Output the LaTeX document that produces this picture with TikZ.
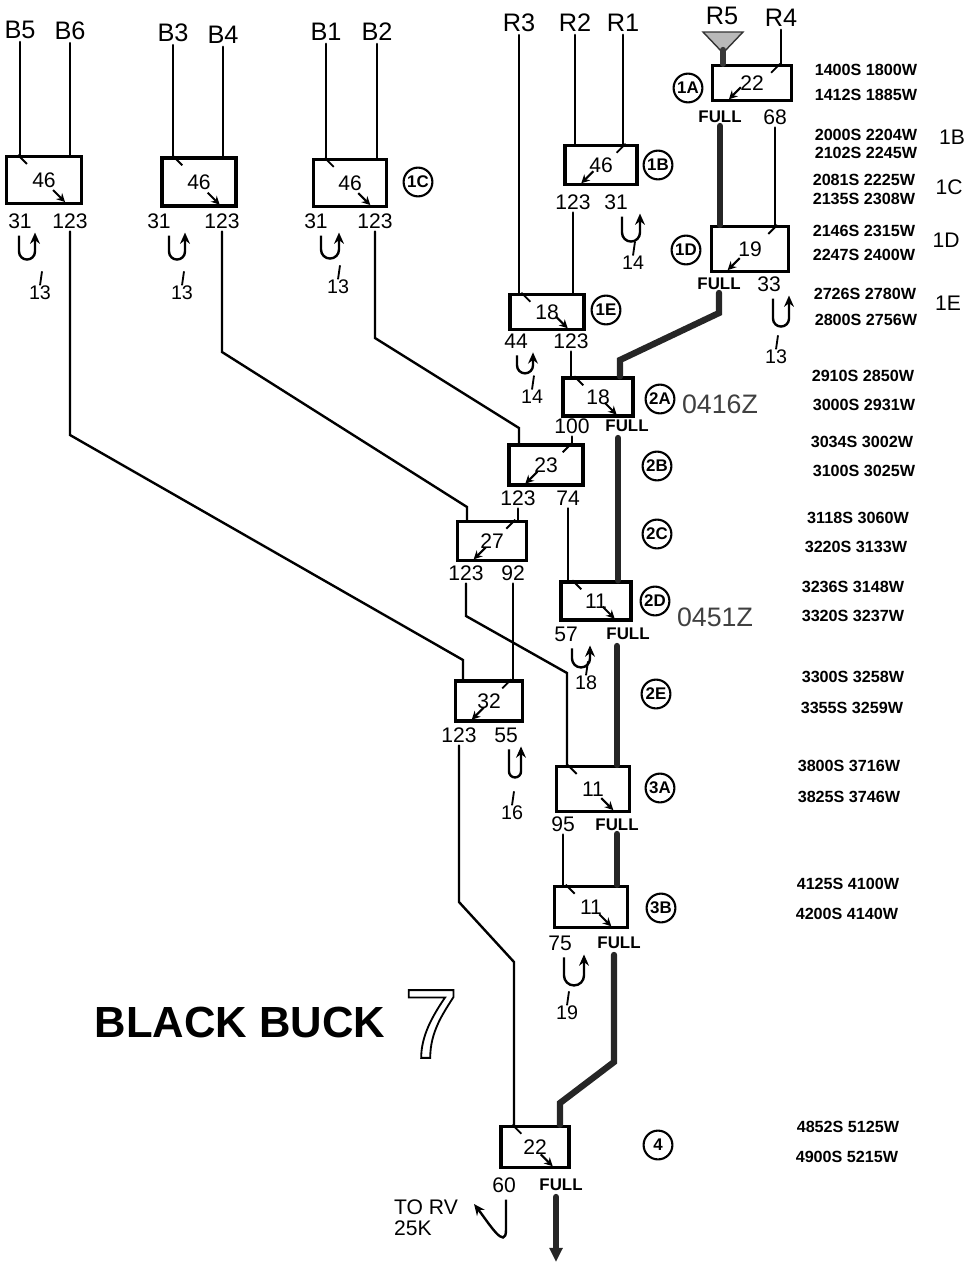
\documentclass[tikz,border=0pt]{standalone}
\usepackage{fontspec}
\setmainfont{Liberation Sans}
\usetikzlibrary{arrows.meta, calc}
\tikzset{
    box_fuel/.style={
        rectangle, draw=black, line width=2.4pt,
        minimum width=1.8cm, minimum height=1.0cm, inner sep=0pt,
        font=\fontsize{15}{15}\selectfont
    },
    lbl_rx/.style={font=\fontsize{18}{18}\selectfont, inner sep=2pt},
    lbl_port/.style={font=\fontsize{15}{15}\selectfont, inner sep=2pt},
    lbl_full/.style={font=\fontsize{12}{12}\selectfont\bfseries, inner sep=2pt},
    lbl_fuel/.style={font=\fontsize{14}{14}\selectfont, inner sep=1pt},
    lbl_time/.style={font=\fontsize{11.5}{12}\selectfont\bfseries, inner sep=0pt},
    lbl_zulu/.style={font=\fontsize{19}{19}\selectfont, text=black!75},
    tag_wave/.style={
        circle, draw, line width=1.5pt, minimum size=0.72cm, inner sep=0pt,
        font=\fontsize{12}{12}\selectfont\bfseries
    },
    line_feed/.style={line width=1.7pt, line cap=round},
    line_full/.style={line width=4.5pt, draw=black!85, line cap=round},
    line_tick/.style={line width=1.3pt},
    line_ret/.style={line width=1.7pt, -{Stealth[length=8pt, width=7pt]}},
    line_xfer/.style={line width=1.5pt, -{Stealth[length=6pt, width=6pt]}}
}

\begin{document}
\begin{tikzpicture}[x=0.025cm, y=-0.025cm]
    \useasboundingbox (0,0) rectangle (972,1264);

    % receivers
    \node[lbl_rx] (rx_b5) at (20,30) {B5};
    \node[lbl_rx] (rx_b6) at (70,31) {B6};
    \node[lbl_rx] (rx_b3) at (173,33) {B3};
    \node[lbl_rx] (rx_b4) at (223,35) {B4};
    \node[lbl_rx] (rx_b1) at (326,32) {B1};
    \node[lbl_rx] (rx_b2) at (377,32) {B2};
    \node[lbl_rx] (rx_r3) at (519,23) {R3};
    \node[lbl_rx] (rx_r2) at (575,23) {R2};
    \node[lbl_rx] (rx_r1) at (623,23) {R1};
    \node[lbl_rx] (rx_r5) at (722,16) {R5};
    \node[lbl_rx] (rx_r4) at (781,18) {R4};

    % refuelling brackets
    \node[box_fuel, minimum width=1.87cm, minimum height=1.17cm] (bx_c3) at (44,180) {46};
    \node[box_fuel, minimum width=1.85cm, minimum height=1.2cm] (bx_c2) at (199,182) {46};
    \node[box_fuel, minimum width=1.83cm, minimum height=1.17cm] (bx_c1) at (350,183) {46};
    \node[box_fuel, minimum height=0.98cm] (bx_1b) at (601,165) {46};
    \node[box_fuel, minimum width=1.97cm, minimum height=0.88cm] (bx_1a) at (752,83) {22};
    \node[box_fuel, minimum width=1.93cm, minimum height=1.12cm] (bx_1d) at (750,249) {19};
    \node[box_fuel, minimum width=1.85cm, minimum height=0.88cm] (bx_1e) at (547,312) {18};
    \node[box_fuel, minimum width=1.75cm, minimum height=0.95cm] (bx_2a) at (598,397) {18};
    \node[box_fuel, minimum width=1.85cm] (bx_2b) at (546,465) {23};
    \node[box_fuel, minimum width=1.73cm, minimum height=0.98cm] (bx_2c) at (492,541) {27};
    \node[box_fuel, minimum width=1.75cm, minimum height=0.95cm] (bx_2d) at (596,601) {11};
    \node[box_fuel, minimum width=1.68cm] (bx_2e) at (489,701) {32};
    \node[box_fuel, minimum width=1.83cm, minimum height=1.12cm] (bx_3a) at (593,789) {11};
    \node[box_fuel, minimum width=1.83cm, minimum height=1.03cm] (bx_3b) at (591,907) {11};
    \node[box_fuel, minimum width=1.7cm, minimum height=1.03cm] (bx_4) at (535,1147) {22};

    % transfer marks inside the boxes
    \foreach \b in {bx_c3, bx_c2, bx_c1, bx_1e, bx_2a, bx_2d, bx_3a, bx_3b, bx_4} {
        \draw[line_tick] ($(\b.north west)+(13,0)$) -- ++(9,9);
        \draw[line_xfer] ($(\b.south east)+(-30,-15)$) -- ++(12,12);
    }
    \foreach \b in {bx_1b, bx_1a, bx_1d, bx_2b, bx_2c, bx_2e} {
        \draw[line_tick] ($(\b.north east)+(-13,0)$) -- ++(-9,9);
        \draw[line_xfer] ($(\b.south west)+(30,-15)$) -- ++(-12,12);
    }

    % fuel states
    \node[lbl_port] (pt_c3_l) at (20,221) {31};
    \node[lbl_port] (pt_c3_r) at (70,221) {123};
    \node[lbl_port] (pt_c2_l) at (159,221) {31};
    \node[lbl_port] (pt_c2_r) at (222,221) {123};
    \node[lbl_port] (pt_c1_l) at (316,221) {31};
    \node[lbl_port] (pt_c1_r) at (375,221) {123};
    \node[lbl_port] (pt_1b_l) at (573,202) {123};
    \node[lbl_port] (pt_1b_r) at (616,202) {31};
    \node[lbl_full] (pt_1a_l) at (720,117) {FULL};
    \node[lbl_port] (pt_1a_r) at (775,117) {68};
    \node[lbl_full] (pt_1d_l) at (719,284) {FULL};
    \node[lbl_port] (pt_1d_r) at (769,284) {33};
    \node[lbl_port] (pt_1e_l) at (516,341) {44};
    \node[lbl_port] (pt_1e_r) at (571,341) {123};
    \node[lbl_port] (pt_2a_l) at (572,426) {100};
    \node[lbl_full] (pt_2a_r) at (627,426) {FULL};
    \node[lbl_port] (pt_2b_l) at (518,498) {123};
    \node[lbl_port] (pt_2b_r) at (568,498) {74};
    \node[lbl_port] (pt_2c_l) at (466,573) {123};
    \node[lbl_port] (pt_2c_r) at (513,573) {92};
    \node[lbl_port] (pt_2d_l) at (566,634) {57};
    \node[lbl_full] (pt_2d_r) at (628,634) {FULL};
    \node[lbl_port] (pt_2e_l) at (459,735) {123};
    \node[lbl_port] (pt_2e_r) at (506,735) {55};
    \node[lbl_port] (pt_3a_l) at (563,824) {95};
    \node[lbl_full] (pt_3a_r) at (617,825) {FULL};
    \node[lbl_port] (pt_3b_l) at (560,943) {75};
    \node[lbl_full] (pt_3b_r) at (619,943) {FULL};
    \node[lbl_port] (pt_4_l) at (504,1185) {60};
    \node[lbl_full] (pt_4_r) at (561,1185) {FULL};

    % bends
    \coordinate (k_c3a) at (69,435);
    \coordinate (k_c3b) at (463,660);
    \coordinate (k_c2a) at (222,352);
    \coordinate (k_c2b) at (467,507);
    \coordinate (k_c1a) at (375,338);
    \coordinate (k_c1b) at (519,428);
    \coordinate (k_1da) at (720,313);
    \coordinate (k_1db) at (620,360);
    \coordinate (k_2ca) at (466,616);
    \coordinate (k_2cb) at (567,673);
    \coordinate (k_2ea) at (460,902);
    \coordinate (k_2eb) at (514,962);
    \coordinate (k_3ba) at (614,1062);
    \coordinate (k_3bb) at (560,1103);
    \coordinate (f_2a) at ($(pt_2a_r.south)+(-9,3)$);
    \coordinate (f_2d) at ($(pt_2d_r.south)+(-11,3)$);
    \coordinate (f_3b) at ($(pt_3b_r.south)+(-5,3)$);
    \coordinate (f_4) at ($(pt_4_r.south)+(-5,3)$);
    \coordinate (tk_out) at (556,1262);
    \coordinate (rv_end) at (474,1204);
    \coordinate (fn_tip) at (723,50);

    % receiver lines
    \foreach \r/\b in {rx_b5/bx_c3, rx_b6/bx_c3, rx_b3/bx_c2, rx_b4/bx_c2, rx_b1/bx_c1,
                       rx_b2/bx_c1, rx_r3/bx_1e, rx_r2/bx_1b, rx_r1/bx_1b, rx_r4/bx_1a}
        \draw[line_feed] (\r.south) -- (\r.south |- \b.north);

    % funnel
    \filldraw[fill=gray!55, draw=gray!40!black, line width=1pt] (703,32) -- (743,32) -- (723,53) -- cycle;
    \draw[line_full, draw=gray!45!black] (fn_tip) -- (fn_tip |- bx_1a.north);

    % onward legs
    \draw[line_feed] (pt_c3_r.south) -- (pt_c3_r.south |- k_c3a) -- (k_c3b) -- (k_c3b |- bx_2e.north);
    \draw[line_feed] (pt_c2_r.south) -- (pt_c2_r.south |- k_c2a) -- (k_c2b) -- (k_c2b |- bx_2c.north);
    \draw[line_feed] (pt_c1_r.south) -- (pt_c1_r.south |- k_c1a) -- (k_c1b) -- (k_c1b |- bx_2b.north);
    \draw[line_feed] (pt_1b_l.south) -- (pt_1b_l.south |- bx_1e.north);
    \draw[line_feed] (pt_1e_r.south) -- (pt_1e_r.south |- bx_2a.north);
    \draw[line_feed] (pt_1a_r.south) -- (pt_1a_r.south |- bx_1d.north);
    \draw[line_feed] (pt_2a_l.south) -- (pt_2a_l.south |- bx_2b.north);
    \draw[line_feed] (pt_2b_l.south) -- (pt_2b_l.south |- bx_2c.north);
    \draw[line_feed] (pt_2b_r.south) -- (pt_2b_r.south |- bx_2d.north);
    \draw[line_feed] (pt_2c_l.south) -- (pt_2c_l.south |- k_2ca) -- (k_2cb) -- (k_2cb |- bx_3a.north);
    \draw[line_feed] (pt_2c_r.south) -- (pt_2c_r.south |- bx_2e.north);
    \draw[line_feed] (pt_2e_l.south) -- (pt_2e_l.south |- k_2ea) -- (k_2eb) -- (k_2eb |- bx_4.north);
    \draw[line_feed] (pt_3a_l.south) -- (pt_3a_l.south |- bx_3b.north);

    % the tanker that stays full
    \draw[line_full] (pt_1a_l.south) -- (pt_1a_l.south |- bx_1d.north);
    \draw[line_full] (pt_1d_l.south) -- (pt_1d_l.south |- k_1da) -- (k_1db) -- (k_1db |- bx_2a.north);
    \draw[line_full] (f_2a) -- (f_2a |- bx_2d.north);
    \draw[line_full] (f_2d) -- (f_2d |- bx_3a.north);
    \draw[line_full] (pt_3a_r.south) -- (pt_3a_r.south |- bx_3b.north);
    \draw[line_full] (f_3b) -- (f_3b |- k_3ba) -- (k_3bb) -- (k_3bb |- bx_4.north);
    \draw[line_full, -{Triangle[length=10pt, width=9pt]}] (f_4) -- (tk_out);

    % returning tankers
    \foreach \p/\dx/\h/\r/\nx/\ny/\t [count=\i] in {
        pt_c3_l/-1/16/8/40/293/13, pt_c2_l/10/16/8/182/293/13, pt_c1_l/5/14/9/338/287/13,
        pt_1b_r/6/16/9/633/263/14, pt_1d_r/4/20/8/776/357/13, pt_1e_l/1/10/8/532/397/14,
        pt_2d_l/6/10/9/586/683/18, pt_2e_r/3/22/6/512/813/16, pt_3b_l/4/18/10/567/1013/19} {
        \draw[line_ret] ($(\p.south)+(\dx,4)$) -- ++(0,\h) arc(180:0:\r) -- ++(0,-\h-3);
        \node[lbl_fuel] (nb_\i) at (\nx,\ny) {\t};
        \draw[line_tick] ($(nb_\i.north)+(0,1)$) -- ++(2,-14);
    }
    \draw[line_ret] ($(pt_4_l.south)+(2,4)$) -- ++(0,30) .. controls +(0,22) and +(14,18) .. (rv_end);
    \node[lbl_port, align=left] (rv_lbl) at (426,1218) {TO RV\\25K};

    % wave tags
    \node[tag_wave] (tg_1a) at (688,88) {1A};
    \node[tag_wave] (tg_1b) at (658,165) {1B};
    \node[tag_wave] (tg_1c) at (418,182) {1C};
    \node[tag_wave] (tg_1d) at (686,250) {1D};
    \node[tag_wave] (tg_1e) at (606,310) {1E};
    \node[tag_wave] (tg_2a) at (660,399) {2A};
    \node[tag_wave] (tg_2b) at (657,466) {2B};
    \node[tag_wave] (tg_2c) at (657,534) {2C};
    \node[tag_wave] (tg_2d) at (655,601) {2D};
    \node[tag_wave] (tg_2e) at (656,694) {2E};
    \node[tag_wave] (tg_3a) at (660,788) {3A};
    \node[tag_wave] (tg_3b) at (661,908) {3B};
    \node[tag_wave] (tg_4) at (658,1145) {4};
    \node[lbl_zulu] (zu_2a) at (720,404) {0416Z};
    \node[lbl_zulu] (zu_2d) at (715,617) {0451Z};

    % positions
    \foreach \x/\y/\t [count=\i] in {
        866/70/1400S 1800W, 866/95/1412S 1885W, 866/135/2000S 2204W, 866/153/2102S 2245W,
        864/180/2081S 2225W, 864/199/2135S 2308W, 864/231/2146S 2315W, 864/255/2247S 2400W,
        865/294/2726S 2780W, 866/320/2800S 2756W, 863/376/2910S 2850W, 864/405/3000S 2931W,
        862/442/3034S 3002W, 864/471/3100S 3025W, 858/518/3118S 3060W, 856/547/3220S 3133W,
        853/587/3236S 3148W, 853/616/3320S 3237W, 853/677/3300S 3258W, 852/708/3355S 3259W,
        849/766/3800S 3716W, 849/797/3825S 3746W, 848/884/4125S 4100W, 847/914/4200S 4140W,
        848/1127/4852S 5125W, 847/1157/4900S 5215W}
        \node[lbl_time] (tm_\i) at (\x,\y) {\t};
    \node[lbl_port] (sd_1b) at (952,137) {1B};
    \node[lbl_port] (sd_1c) at (949,187) {1C};
    \node[lbl_port] (sd_1d) at (946,240) {1D};
    \node[lbl_port] (sd_1e) at (948,303) {1E};

    % title
    \node[font=\fontsize{31}{31}\selectfont\bfseries] (ttl) at (240,1022) {BLACK BUCK};
    \node[font=\fontsize{70}{70}\selectfont] (ttl_num) at (431,1024)
        {\special{pdf:literal direct 1 Tr 1.3 w}7\special{pdf:literal direct 0 Tr}};
\end{tikzpicture}
\end{document}
